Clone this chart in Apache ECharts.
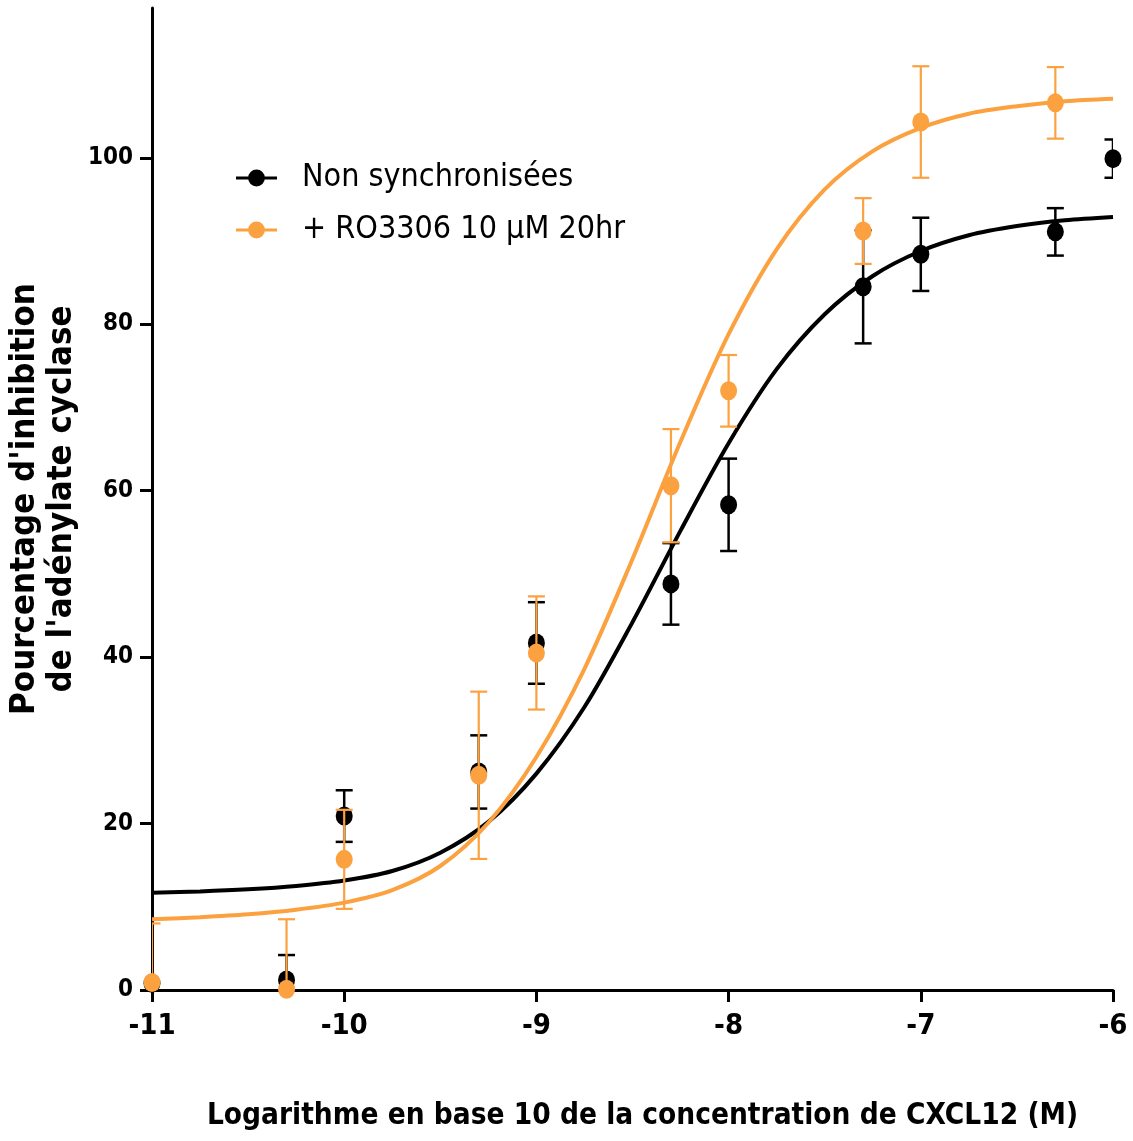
<!DOCTYPE html>
<html>
<head>
<meta charset="utf-8">
<script src="https://cdn.jsdelivr.net/npm/echarts@6/dist/echarts.min.js"></script>
<style>
html,body{margin:0;padding:0;background:#fff;}
#chart{width:1133px;height:1141px;}
</style>
</head>
<body>
<div id="chart"></div>
<script>
// ---- Data ----
const seriesNames = ['Non synchronisées', '+ RO3306 10 µM 20hr'];
const xTicks = [-11, -10, -9, -8, -7, -6];
const yTicks = [0, 20, 40, 60, 80, 100];

// Non synchronisées (mean, error)
const blackX = [-11, -10.3, -10, -9.3, -9, -8.3, -8, -7.3, -7, -6.3, -6];
const blackMean = [0.8, 1.2, 20.9, 26.2, 41.7, 48.8, 58.3, 84.5, 88.4, 91.1, 99.9];
const blackErr = [0, 3.0, 3.1, 4.4, 4.9, 4.9, 5.55, 6.8, 4.4, 2.85, 2.3];

// + RO3306 10 µM 20hr (mean, error)
const orangeX = [-11, -10.3, -10, -9.3, -9, -8.3, -8, -7.3, -7, -6.3];
const orangeMean = [0.9, 0.1, 15.7, 25.8, 40.5, 60.6, 72.0, 91.2, 104.3, 106.6];
const orangeErr = [7.1, 8.4, 5.95, 10.05, 6.8, 6.8, 4.3, 3.95, 6.7, 4.3];

// Fitted curves
const curveX = [-11, -10.75, -10.5, -10.25, -10, -9.75, -9.5, -9.25, -9, -8.75, -8.5, -8.25, -8, -7.75, -7.5, -7.25, -7, -6.75, -6.5, -6.25, -6];
const blackCurve = [11.7, 11.85, 12.1, 12.5, 13.15, 14.3, 16.5, 20.2, 26.0, 34.0, 44.2, 55.2, 65.7, 74.6, 81.2, 85.8, 88.8, 90.7, 91.8, 92.5, 92.9];
const orangeCurve = [8.5, 8.75, 9.1, 9.65, 10.5, 12.0, 14.9, 20.1, 28.0, 38.6, 51.8, 65.9, 78.8, 89.0, 96.2, 100.8, 103.6, 105.3, 106.2, 106.8, 107.1];

// ---- Styles ----
const BLACK = '#000000';
const ORANGE = '#FBA140';
const NARROW = "'Liberation Sans Narrow', 'DejaVu Sans Condensed', 'Arial Narrow', sans-serif";
const legendIcon = 'path://M0,7.5L44,7.5L44,10.5L0,10.5Z M13,9A9,9,0,1,1,31,9A9,9,0,1,1,13,9Z';

function pairs(xs, ys) { return xs.map((x, i) => [x, ys[i]]); }
function errData(xs, m, e) { return xs.map((x, i) => [x, m[i] - e[i], m[i] + e[i]]); }

function errRender(color, lw, capHalf) {
  return function (params, api) {
    const x = api.value(0), lo = api.value(1), hi = api.value(2);
    if (hi - lo <= 0) return null;
    const pHi = api.coord([x, hi]);
    const pLo = api.coord([x, lo]);
    const st = { stroke: color, lineWidth: lw };
    return {
      type: 'group',
      children: [
        { type: 'line', shape: { x1: pHi[0], y1: pHi[1], x2: pLo[0], y2: pLo[1] }, style: st },
        { type: 'line', shape: { x1: pHi[0] - capHalf, y1: pHi[1], x2: pHi[0] + capHalf, y2: pHi[1] }, style: st },
        { type: 'line', shape: { x1: pLo[0] - capHalf, y1: pLo[1], x2: pLo[0] + capHalf, y2: pLo[1] }, style: st }
      ]
    };
  };
}

const chart = echarts.init(document.getElementById('chart'), null, { renderer: 'canvas' });
chart.setOption({
  animation: false,
  backgroundColor: '#ffffff',
  grid: { left: 152, right: 20, top: 8, bottom: 151, containLabel: false, outerBoundsMode: 'none' },
  legend: {
    orient: 'vertical',
    left: 236,
    top: 162,
    padding: 0,
    itemWidth: 41,
    itemHeight: 18,
    itemGap: 20,
    data: [
      { name: seriesNames[0], icon: legendIcon },
      { name: seriesNames[1], icon: legendIcon }
    ],
    textStyle: { fontFamily: NARROW, fontSize: 32, color: '#000', padding: [0, 0, 0, 20] }
  },
  xAxis: {
    type: 'value',
    min: -11, max: -6, interval: 1,
    name: 'Logarithme en base 10 de la concentration de CXCL12 (M)',
    nameLocation: 'middle',
    nameGap: 111,
    nameMoveOverlap: false,
    nameTextStyle: { fontFamily: NARROW, fontWeight: 'bold', fontSize: 29.5, color: '#000', padding: [0, 0, 0, 20] },
    axisLine: { show: true, onZero: false, lineStyle: { color: '#000', width: 3 } },
    axisTick: { show: true, inside: false, length: 12, lineStyle: { color: '#000', width: 3 }, customValues: xTicks },
    axisLabel: { margin: 22, fontFamily: NARROW, fontWeight: 'bold', fontSize: 29, color: '#000', customValues: xTicks },
    splitLine: { show: false }
  },
  yAxis: {
    type: 'value',
    min: 0, max: 118,
    name: 'Pourcentage d\'inhibition\nde l\'adénylate cyclase',
    nameLocation: 'middle',
    nameGap: 71,
    nameRotate: 90,
    nameMoveOverlap: false,
    nameTextStyle: { fontFamily: NARROW, fontWeight: 'bold', fontSize: 34.5, color: '#000', lineHeight: 37 },
    axisLine: { show: true, onZero: false, lineStyle: { color: '#000', width: 3 } },
    axisTick: { show: true, inside: false, length: 12, lineStyle: { color: '#000', width: 3 }, customValues: yTicks },
    axisLabel: { margin: 19, fontFamily: NARROW, fontWeight: 'bold', fontSize: 24, color: '#000', customValues: yTicks },
    splitLine: { show: false }
  },
  series: [
    {
      name: seriesNames[0], type: 'line', data: pairs(curveX, blackCurve),
      showSymbol: false, symbol: 'none', smooth: 0.3, z: 2, color: BLACK,
      lineStyle: { color: BLACK, width: 4 }
    },
    {
      name: seriesNames[1], type: 'line', data: pairs(curveX, orangeCurve),
      showSymbol: false, symbol: 'none', smooth: 0.3, z: 2, color: ORANGE,
      lineStyle: { color: ORANGE, width: 4 }
    },
    {
      name: seriesNames[0], type: 'custom', clip: true, z: 3, color: BLACK,
      renderItem: errRender(BLACK, 2.5, 8.5),
      encode: { x: 0, y: [1, 2] },
      data: errData(blackX, blackMean, blackErr)
    },
    {
      name: seriesNames[0], type: 'scatter', z: 4, color: BLACK,
      symbol: 'circle', symbolSize: [17, 19],
      itemStyle: { color: BLACK, opacity: 1 },
      data: pairs(blackX, blackMean)
    },
    {
      name: seriesNames[1], type: 'custom', clip: true, z: 5, color: ORANGE,
      renderItem: errRender(ORANGE, 2.2, 8.5),
      encode: { x: 0, y: [1, 2] },
      data: errData(orangeX, orangeMean, orangeErr)
    },
    {
      name: seriesNames[1], type: 'scatter', z: 6, color: ORANGE,
      symbol: 'circle', symbolSize: [17, 19],
      itemStyle: { color: ORANGE, opacity: 1 },
      data: pairs(orangeX, orangeMean)
    }
  ]
});
</script>
</body>
</html>
